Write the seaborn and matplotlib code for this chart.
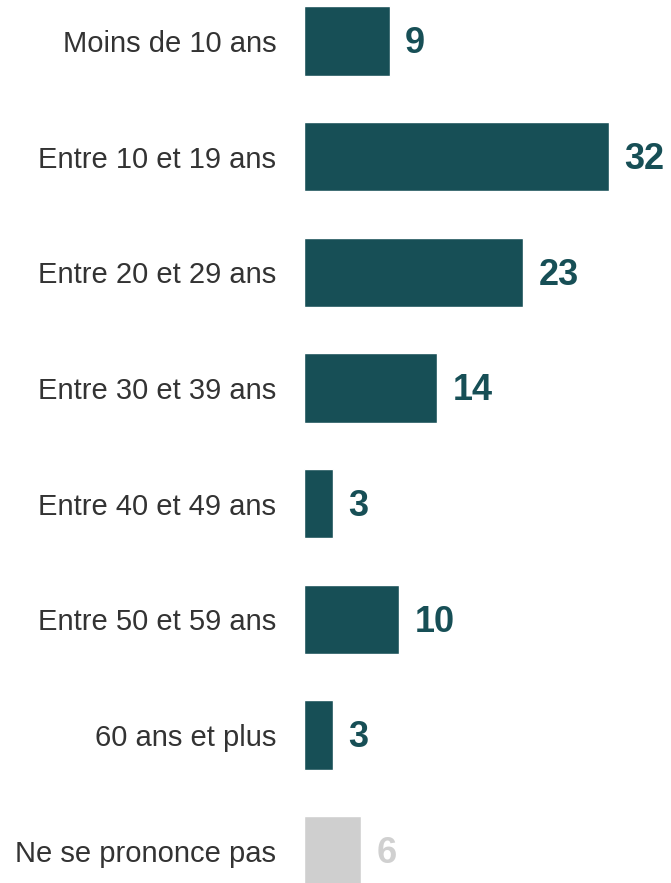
import matplotlib
matplotlib.use("Agg")
import matplotlib.pyplot as plt
import pandas as pd
import seaborn as sns

categories = [
    "Moins de 10 ans",
    "Entre 10 et 19 ans",
    "Entre 20 et 29 ans",
    "Entre 30 et 39 ans",
    "Entre 40 et 49 ans",
    "Entre 50 et 59 ans",
    "60 ans et plus",
    "Ne se prononce pas",
]
values = [9, 32, 23, 14, 3, 10, 3, 6]
groups = ["main"] * 7 + ["nsp"]

TEAL = "#174F56"
GREY = "#CFCFCF"
GREY_TEXT = "#D0D0D0"

sns.set_style("white")
plt.rcParams["font.family"] = ["Liberation Sans", "DejaVu Sans"]

df = pd.DataFrame({"categorie": categories, "valeur": values, "groupe": groups})

fig = plt.figure(figsize=(6.71, 8.83), dpi=100)
ax = fig.add_axes([304 / 671, 0, 1 - 304 / 671, 1])

sns.barplot(
    data=df, y="categorie", x="valeur", hue="groupe",
    palette={"main": TEAL, "nsp": GREY}, orient="h", saturation=1,
    width=0.6, dodge=False, legend=False, ax=ax,
)

# étiquettes de valeurs
for i, (v, g) in enumerate(zip(values, groups)):
    ax.annotate(
        str(v), xy=(v, i), xytext=(11, -2), textcoords="offset points",
        va="center", ha="left", fontsize=26, fontweight="bold",
        color=TEAL if g == "main" else GREY_TEXT,
    )

ax.set_xlim(0, 38.5)
ax.set_ylim(7.28, -0.355)
ax.set_xlabel("")
ax.set_ylabel("")
ax.set_xticks([])
ax.tick_params(axis="y", length=0, pad=20, labelsize=21, labelcolor="#333333")
sns.despine(ax=ax, left=True, bottom=True)

fig.savefig("out.png", dpi=100, facecolor="white")
